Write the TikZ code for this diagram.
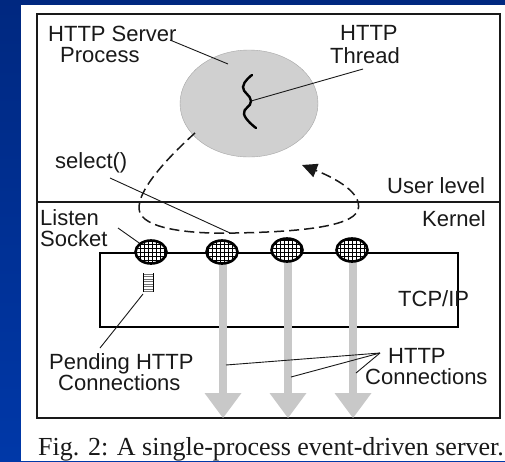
\documentclass[tikz,border=0pt]{standalone}
\usepackage{fontspec}
\setmainfont{Liberation Sans}
\newfontfamily\capfont{Liberation Serif}
\usetikzlibrary{arrows.meta,shapes.geometric}
\definecolor{bgtop}{RGB}{0,40,128}
\definecolor{bgbot}{RGB}{0,56,168}
\definecolor{procgray}{RGB}{208,208,208}
\definecolor{arrgray}{RGB}{200,200,200}
\definecolor{ink}{RGB}{25,25,25}
\setlength{\lineskiplimit}{-100pt}
\begin{document}
\begin{tikzpicture}[x=1pt,y=-1pt,
  lbl/.style={inner sep=0pt, anchor=base west, align=left, text=ink,
    font=\fontsize{22}{21}\selectfont},
  pointer/.style={draw=ink, line width=0.9pt},
]
\useasboundingbox (0,0) rectangle (505,461);
% background
\shade[top color=bgtop, bottom color=bgbot] (0,0) rectangle (505,461);
\fill[white] (21,5) rectangle (505,461);
% frame and divider
\draw[ink, line width=1.6pt] (37,14) rectangle (500,418);
\draw[ink, line width=1.6pt] (37,202) -- (500,202);

% process ellipse
\node[ellipse, draw=gray!70, fill=procgray, minimum width=138pt, minimum height=107pt, inner sep=0pt] (proc) at (249,103.5) {};

% thread squiggle
\draw[line width=2.4pt, black, line cap=round] plot[smooth, tension=0.8] coordinates {(252,75) (243,87) (251,101) (244,114) (256,128)};
\coordinate (thr) at (251,101);

% TCP/IP box
\node[draw=black, line width=2.6pt, minimum width=358pt, minimum height=74pt, inner sep=0pt] (tcp) at (279,290) {};

% gray arrows
\foreach \n/\xx in {a1/223, a2/288, a3/353}{
  \fill[arrgray] (\xx-4,258) rectangle (\xx+4,394);
  \fill[arrgray] (\xx-18.5,393) -- (\xx+18.5,393) -- (\xx,418) -- cycle;
  \coordinate (\n) at (\xx,300);
}

% sockets
\foreach \n/\xx/\yy in {s1/151/252, s2/222/252, s3/287/250, s4/352/250}{
  \begin{scope}
    \clip (\xx,\yy) ellipse [x radius=15pt, y radius=11pt];
    \fill[white] (\xx-16,\yy-12) rectangle (\xx+16,\yy+12);
    \draw[black, line width=0.8pt] (\xx-16,\yy-12) grid[step=4pt] (\xx+16,\yy+12);
  \end{scope}
  \node[draw=black, line width=2.6pt, ellipse, minimum width=31pt, minimum height=23pt, inner sep=0pt] (\n) at (\xx,\yy) {};
}

% pending queue icon
\node[inner sep=0pt, minimum width=10pt, minimum height=19pt] (queue) at (148,282.5) {};
\foreach \k in {0,...,7}{
  \draw[black!55, line width=0.9pt] (143,274+\k*2.5) -- (153,274+\k*2.5);
}
\draw[black, line width=1pt] (143,273) -- (143,292) (153,273) -- (153,292);

% dashed select loop
\draw[ink, line width=1.5pt, dash pattern=on 10pt off 5pt, -{Triangle[length=15pt,width=14pt]}]
  (195,133) .. controls (165,160) and (133,195) .. (140,213)
  .. controls (148,231) and (200,234) .. (235,233)
  .. controls (290,232) and (352,228) .. (358,210)
  .. controls (363,193) and (335,178) .. (302,165);

% labels (anchor = baseline of the last line)
\node[lbl] (hsp) at (48,62) {HTTP Server\\\kern12pt Process};
\node[lbl] (ht) at (330,63) {\kern10pt HTTP\\[2pt]Thread};
\node[lbl] (sel) at (55,168) {select()};
\node[lbl] (user) at (387,193) {User level};
\node[lbl] (kern) at (422,226) {Kernel};
\node[lbl] (ls) at (40,246) {Listen\\Socket};
\node[lbl] (tcpl) at (398,306) {TCP/IP};
\node[lbl] (ph) at (49,390) {Pending HTTP\\\kern9pt Connections};
\node[lbl] (hc) at (365,384) {\kern23pt HTTP\\Connections};
\node[inner sep=0pt, anchor=base west, text=ink, font=\capfont\fontsize{26}{30}\selectfont] (cap) at (38,455) {Fig. 2: A single-process event-driven server.};

% pointer lines
\coordinate (pA) at (170,40);
\coordinate (pB) at (228,64);
\draw[pointer] (pA) -- (pB);
\coordinate (tA) at (363,69);
\draw[pointer] (tA) -- (thr);
\coordinate (sA) at (110,178);
\coordinate (sB) at (230,233);
\draw[pointer] (sA) -- (sB);
\coordinate (lA) at (118,228);
\draw[pointer] (lA) -- (s1.north west);
\coordinate (qA) at (100,348);
\draw[pointer] (143,294) -- (qA);
\coordinate (hA) at (380,353);
\draw[pointer] (hA) -- (226,365);
\draw[pointer] (hA) -- (291,377);
\draw[pointer] (hA) -- (356,373);
\end{tikzpicture}
\end{document}
